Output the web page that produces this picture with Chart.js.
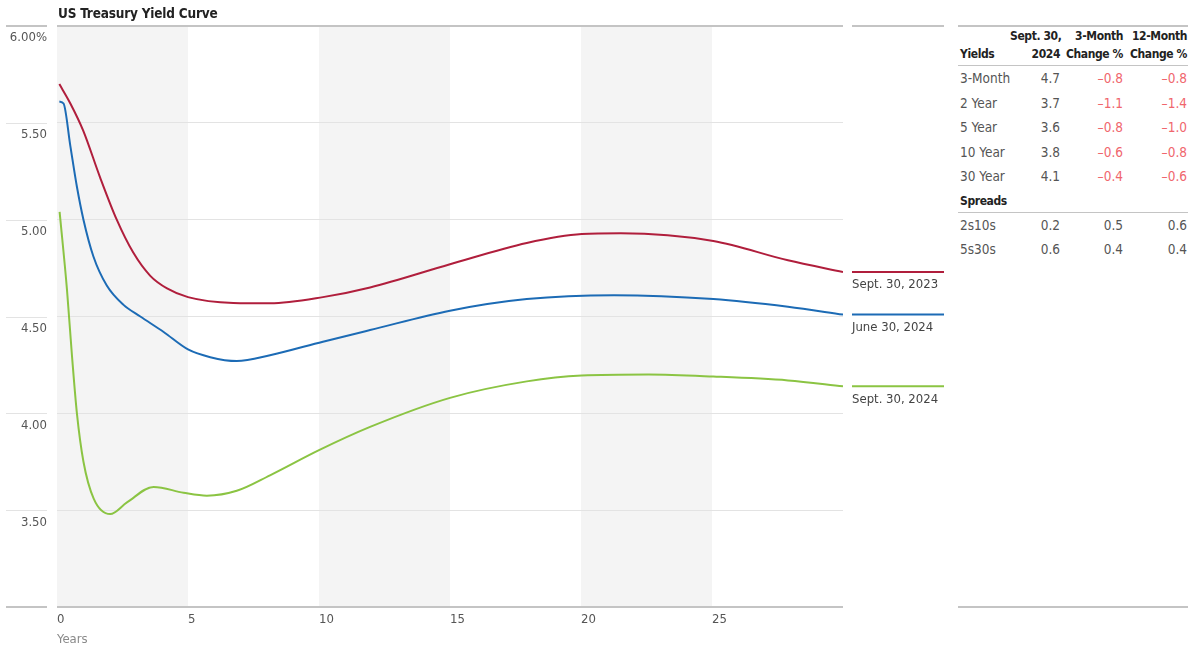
<!DOCTYPE html>
<html>
<head>
<meta charset="utf-8">
<script src="https://cdn.jsdelivr.net/npm/chart.js@4.4.1/dist/chart.umd.min.js"></script>
<style>
  body { margin: 0; background: #fff; font-family: "DejaVu Sans Condensed", "Liberation Sans Narrow", Roboto, sans-serif; }
  #wrap { position: relative; width: 1203px; height: 651px; }
  #title { position: absolute; left: 58px; top: 5px; font-weight: bold; font-size: 13.5px; color: #222; letter-spacing: -0.2px; }
  #chart { position: absolute; left: 0; top: 0; }
  #tbl { position: absolute; left: 958px; top: 25px; width: 230px; height: 583px; box-sizing: border-box;
         border-top: 2px solid #c4c4c4; border-bottom: 2px solid #c4c4c4; }
  table { width: 230px; border-collapse: collapse; table-layout: fixed; font-size: 13.5px; color: #555; }
  td, th { padding: 0 1px 0 0; text-align: right; white-space: nowrap; }
  th { font-weight: bold; color: #222; font-size: 12px; letter-spacing: -0.4px; line-height: 18px; vertical-align: bottom; padding-bottom: 2px; }
  .hd th { border-bottom: 1px solid #c4c4c4; height: 36px; }
  .row td { height: 24.5px; }
  .lbl { text-align: left; padding-left: 2px; }
  .neg { color: #f0666d; }
  .sp th { border-bottom: 1px solid #c4c4c4; height: 21px; text-align: left; padding-left: 2px; }
</style>
</head>
<body>
<div id="wrap">
  <canvas id="chart" width="950" height="651"></canvas>
  <div id="title">US Treasury Yield Curve</div>
  <div id="tbl"></div>
</div>
<script>
const FONT = '"DejaVu Sans Condensed", "Liberation Sans Narrow", Roboto, sans-serif';

// curve points (years to maturity, yield %)
const sept2023Years = [0.09, 0.51, 1.0, 1.64, 2.28, 2.91, 3.56, 4.2, 5.0, 6.73, 8.13, 10.15, 11.95, 15.0, 17.93, 20.03, 21.52, 25.05, 27.9, 30];
const sept2023Yields = [5.70, 5.60, 5.46, 5.22, 5.00, 4.83, 4.71, 4.645, 4.60, 4.57, 4.568, 4.60, 4.65, 4.77, 4.88, 4.926, 4.93, 4.89, 4.79, 4.73];

const june2024Years = [0.09, 0.25, 0.51, 0.76, 1.01, 1.39, 1.9, 2.54, 3.18, 4.07, 5.0, 5.85, 6.86, 8.13, 10.15, 11.95, 15.0, 17.93, 21.26, 25.05, 27.9, 30];
const june2024Yields = [5.61, 5.60, 5.38, 5.17, 5.00, 4.81, 4.66, 4.56, 4.50, 4.42, 4.33, 4.29, 4.27, 4.30, 4.37, 4.43, 4.53, 4.59, 4.61, 4.59, 4.55, 4.51];

const sept2024Years = [0.1, 0.38, 0.57, 0.76, 1.01, 1.4, 2.03, 2.67, 3.69, 4.83, 5.72, 6.86, 8.13, 10.0, 11.95, 15.0, 17.93, 20.03, 22.58, 25.05, 27.9, 30];
const sept2024Yields = [5.04, 4.64, 4.30, 4.00, 3.75, 3.56, 3.48, 3.54, 3.62, 3.59, 3.575, 3.60, 3.68, 3.81, 3.93, 4.08, 4.165, 4.195, 4.20, 4.19, 4.17, 4.14];

const seriesNames = ["Sept. 30, 2023", "June 30, 2024", "Sept. 30, 2024"];
const seriesColors = ["#b01e3c", "#1c6bb5", "#8bc443"];

// shaded year bands
const bandStarts = [0, 10, 20];
const bandWidth = 5;

// side table
const yieldNames = ["3-Month", "2 Year", "5 Year", "10 Year", "30 Year"];
const yieldNow = [4.7, 3.7, 3.6, 3.8, 4.1];
const yieldChg3m = [-0.8, -1.1, -0.8, -0.6, -0.4];
const yieldChg12m = [-0.8, -1.4, -1.0, -0.8, -0.6];
const spreadNames = ["2s10s", "5s30s"];
const spreadNow = [0.2, 0.6];
const spreadChg3m = [0.5, 0.4];
const spreadChg12m = [0.6, 0.4];

function toPoints(xs, ys) {
  return xs.map((x, i) => ({ x: x, y: ys[i] }));
}

function fmt(v) {
  return v < 0 ? "\u2013" + Math.abs(v).toFixed(1) : v.toFixed(1);
}

function cell(v) {
  return `<td class="${v < 0 ? "neg" : ""}">${fmt(v)}</td>`;
}

function buildTable() {
  let html = `<table>
    <colgroup><col style="width:52px"><col style="width:51px"><col style="width:63px"><col style="width:64px"></colgroup>
    <tr class="hd"><th class="lbl" style="text-align:left">Yields</th><th>Sept. 30,<br>2024</th><th>3-Month<br>Change %</th><th>12-Month<br>Change %</th></tr>`;
  yieldNames.forEach((n, i) => {
    html += `<tr class="row"><td class="lbl">${n}</td>${cell(yieldNow[i])}${cell(yieldChg3m[i])}${cell(yieldChg12m[i])}</tr>`;
  });
  html += `<tr class="sp"><th colspan="4">Spreads</th></tr>`;
  spreadNames.forEach((n, i) => {
    html += `<tr class="row"><td class="lbl">${n}</td>${cell(spreadNow[i])}${cell(spreadChg3m[i])}${cell(spreadChg12m[i])}</tr>`;
  });
  html += "</table>";
  document.querySelector("#tbl").innerHTML = html;
}

const decorPlugin = {
  id: "decor",
  beforeDraw(chart) {
    const { ctx, chartArea, scales } = chart;
    ctx.save();
    ctx.fillStyle = "#f4f4f4";
    bandStarts.forEach((b) => {
      const x0 = scales.x.getPixelForValue(b);
      const x1 = scales.x.getPixelForValue(b + bandWidth);
      ctx.fillRect(x0, chartArea.top, x1 - x0, chartArea.bottom - chartArea.top);
    });
    ctx.restore();
  },
  afterDraw(chart) {
    const { ctx, chartArea, scales } = chart;
    ctx.save();
    // short rules beside the y labels
    scales.y.ticks.forEach((t) => {
      const y = Math.round(scales.y.getPixelForValue(t.value));
      const edge = t.value === 6 || t.value === 3;
      ctx.strokeStyle = edge ? "#c4c4c4" : "#e3e3e3";
      ctx.lineWidth = edge ? 2 : 1;
      ctx.beginPath();
      ctx.moveTo(6, y + (edge ? 0 : 0.5));
      ctx.lineTo(47, y + (edge ? 0 : 0.5));
      ctx.stroke();
    });
    // top rule over the label column
    ctx.strokeStyle = "#c4c4c4";
    ctx.lineWidth = 2;
    ctx.beginPath();
    ctx.moveTo(852, chartArea.top);
    ctx.lineTo(944, chartArea.top);
    ctx.stroke();
    // end labels
    ctx.font = "13px " + FONT;
    ctx.textBaseline = "middle";
    ctx.textAlign = "left";
    chart.data.datasets.forEach((ds, i) => {
      const last = ds.data[ds.data.length - 1];
      const y = scales.y.getPixelForValue(last.y);
      ctx.strokeStyle = seriesColors[i];
      ctx.lineWidth = 2;
      ctx.beginPath();
      ctx.moveTo(852, y);
      ctx.lineTo(944, y);
      ctx.stroke();
      ctx.fillStyle = "#444";
      ctx.fillText(seriesNames[i], 852, y + 13);
    });
    ctx.restore();
  },
};

function setup() {
  buildTable();

  const allYears = [sept2023Years, june2024Years, sept2024Years];
  const allYields = [sept2023Yields, june2024Yields, sept2024Yields];

  new Chart(document.querySelector("#chart").getContext("2d"), {
    type: "line",
    data: {
      datasets: seriesNames.map((name, i) => ({
        label: name,
        data: toPoints(allYears[i], allYields[i]),
        borderColor: seriesColors[i],
        borderWidth: 2,
        pointRadius: 0,
        fill: false,
        cubicInterpolationMode: "monotone",
      })),
    },
    options: {
      responsive: false,
      animation: false,
      layout: { padding: { top: 26, right: 107, left: 0, bottom: 0 } },
      plugins: { legend: { display: false }, tooltip: { enabled: false } },
      scales: {
        x: {
          type: "linear",
          min: 0,
          max: 30,
          grid: { display: false, drawTicks: false },
          border: { display: false },
          ticks: {
            stepSize: 5,
            align: "start",
            padding: 5,
            color: "#555",
            font: { family: FONT, size: 13 },
            callback: (v) => (v === 30 ? "" : v),
          },
          title: {
            display: true,
            text: "Years",
            align: "start",
            color: "#8a8a8a",
            font: { family: FONT, size: 13 },
            padding: { top: 0, bottom: 4 },
          },
          afterFit: (s) => {
            s.height = 44;
          },
        },
        y: {
          min: 3,
          max: 6,
          border: { display: false },
          grid: {
            drawTicks: false,
            color: (c) => (c.tick.value === 6 || c.tick.value === 3 ? "#c4c4c4" : "#e3e3e3"),
            lineWidth: (c) => (c.tick.value === 6 || c.tick.value === 3 ? 2 : 1),
          },
          ticks: {
            stepSize: 0.5,
            padding: 10,
            labelOffset: 12,
            color: "#555",
            font: { family: FONT, size: 13 },
            callback: (v) => (v === 3 ? "" : v === 6 ? "6.00%" : v.toFixed(2)),
          },
          afterFit: (s) => {
            s.width = 57;
          },
        },
      },
    },
    plugins: [decorPlugin],
  });
}

setup();
</script>
</body>
</html>
